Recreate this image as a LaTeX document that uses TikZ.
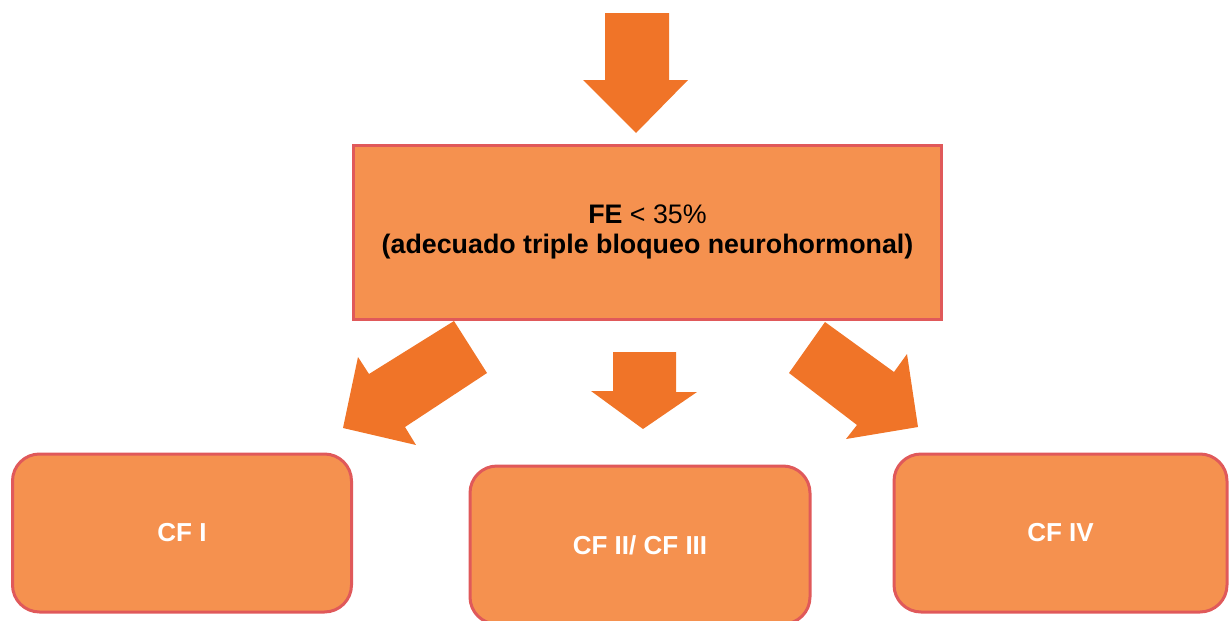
\documentclass[tikz,border=0pt]{standalone}
\usepackage{fontspec}
\setmainfont{Liberation Sans}
\definecolor{boxfill}{HTML}{F5914F}
\definecolor{boxline}{HTML}{E0595A}
\definecolor{arrowfill}{HTML}{F07428}
\begin{document}
\begin{tikzpicture}[x=1pt,y=-1pt,
  mainbox/.style={draw=boxline, fill=boxfill, line width=3pt, align=center,
    font=\fontsize{26.8}{30}\selectfont, text=black, inner sep=0pt},
  cfbox/.style={draw=boxline, fill=boxfill, line width=3pt, rounded corners=27pt,
    font=\bfseries\fontsize{26}{30}\selectfont, text=white, inner sep=0pt,
    minimum height=158pt},
  blockarrow/.style={fill=arrowfill, draw=none}]
\useasboundingbox (0,0) rectangle (1229,621);
\clip (0,0) rectangle (1229,621);
% top block arrow
\fill[blockarrow] (605,13) -- (669,13) -- (669,80) -- (688,80) -- (636,133) -- (583,80) -- (605,80) -- cycle;
% main box
\node[mainbox, minimum width=588pt, minimum height=174pt] (fe) at (647.5,232)
  {\textbf{FE} < 35\%\\\textbf{(adecuado triple bloqueo neurohormonal)}};
% lower block arrows
\fill[blockarrow] (454,321) -- (487,373) -- (405,427) -- (416,445) -- (343,428) -- (358,357) -- (369,374) -- cycle;
\fill[blockarrow] (613,352) -- (676,352) -- (676,392) -- (697,392) -- (643,429) -- (591,391) -- (613,391) -- cycle;
\fill[blockarrow] (825,322) -- (894,372) -- (907,354) -- (918,427) -- (846,439) -- (857,425) -- (789,373) -- cycle;
% bottom boxes
\node[cfbox, minimum width=339pt] (cf1) at (182,533) {CF I};
\node[cfbox, minimum width=340pt] (cf23) at (640,545) {CF II/ CF III};
\node[cfbox, minimum width=333pt] (cf4) at (1060.5,533) {CF IV};
\end{tikzpicture}
\end{document}
